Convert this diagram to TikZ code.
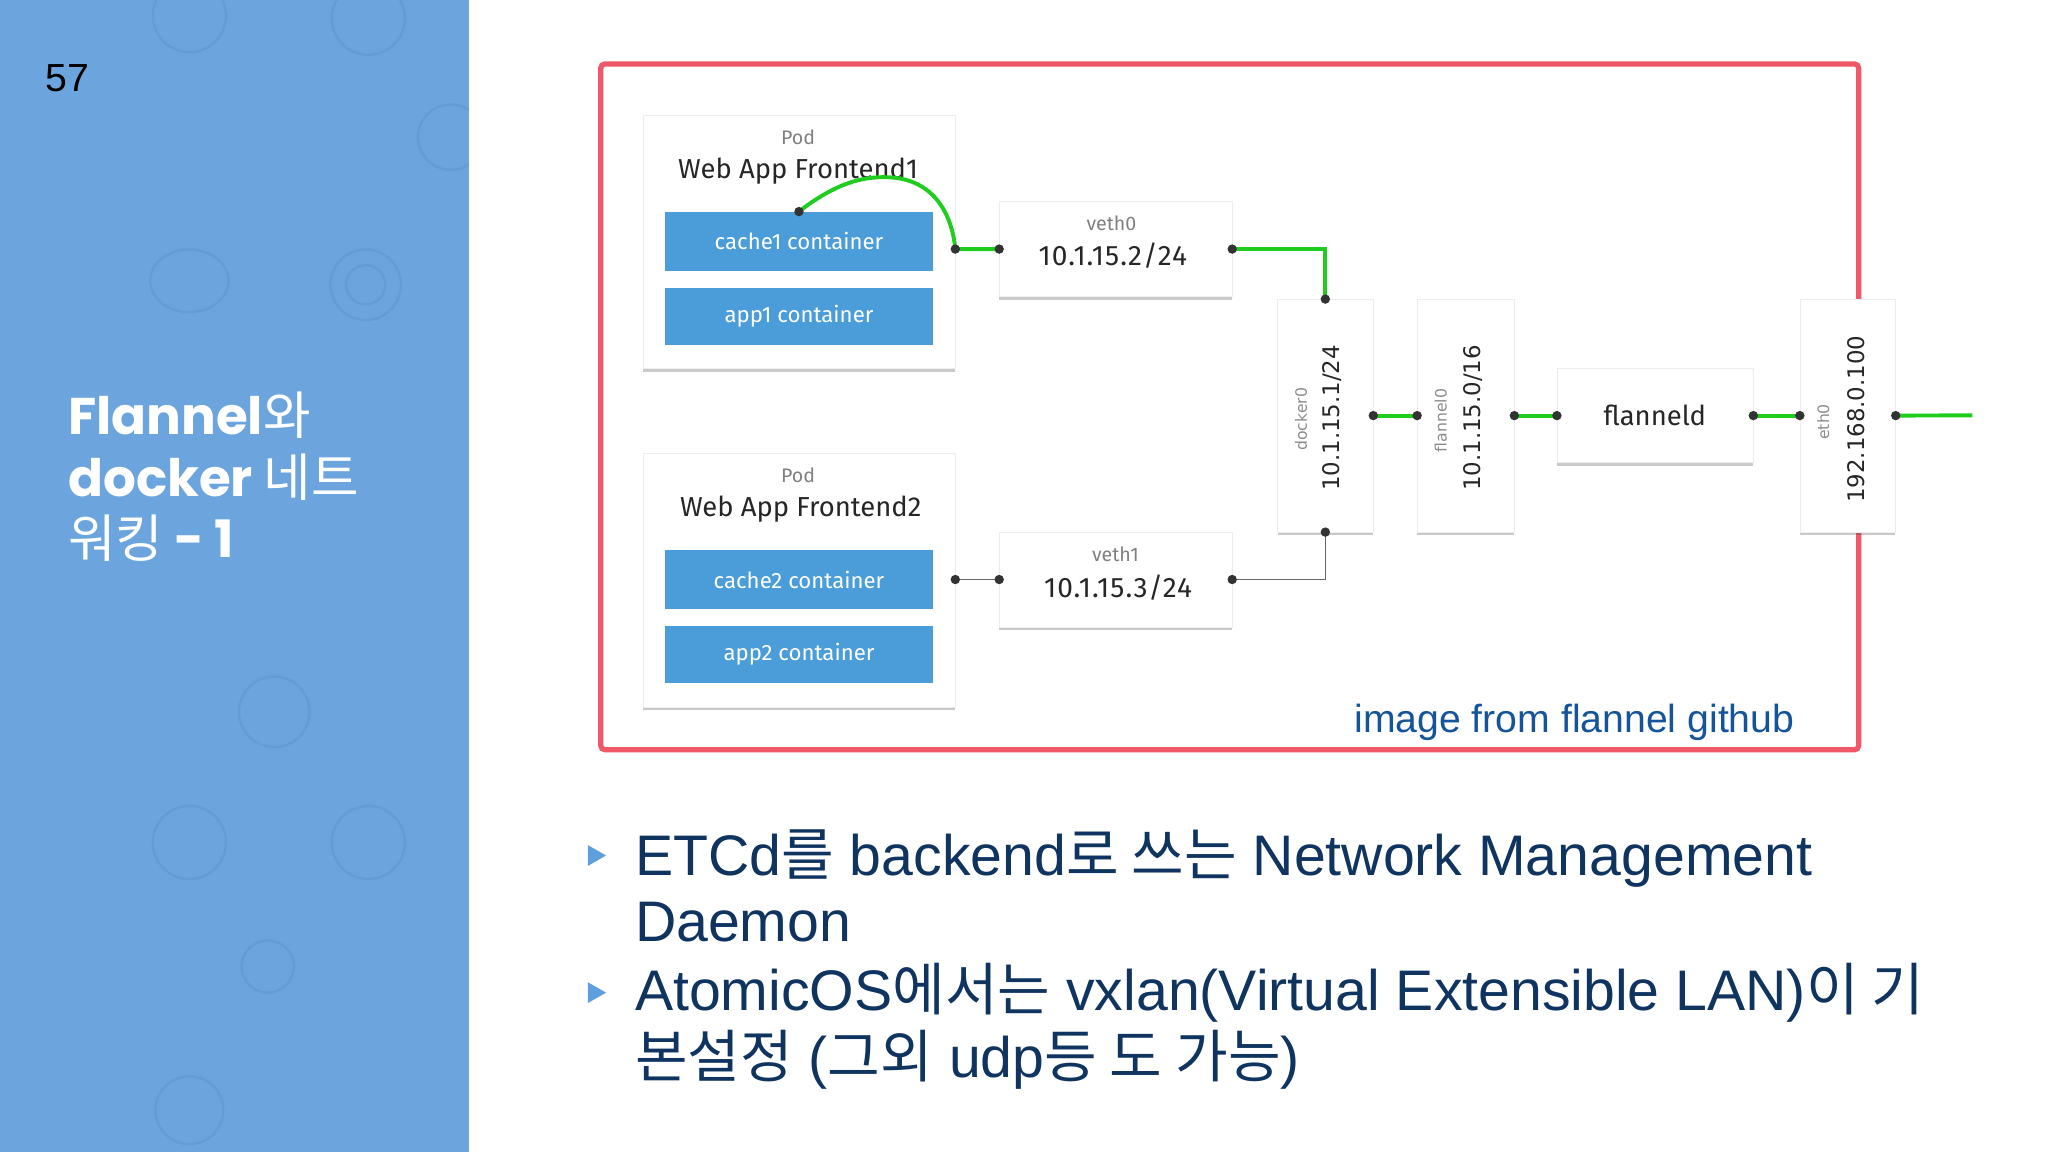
\documentclass[tikz,border=0pt]{standalone}
\usepackage{fontspec}
\setmainfont{Liberation Sans}
\newfontfamily\krfont{Noto Sans CJK KR}
\newfontfamily\titlefont{Poppins}
\newfontfamily\diafont{Fira Sans}
\newfontfamily\ipfont[LetterSpace=4]{Fira Sans}
\newfontfamily\vfont{DejaVu Sans}
\usetikzlibrary{shadows}
\definecolor{panelblue}{RGB}{108,165,221}
\definecolor{iconblue}{RGB}{100,156,212}
\definecolor{framered}{RGB}{238,88,104}
\definecolor{ctrblue}{RGB}{74,157,216}
\definecolor{wiregreen}{RGB}{30,205,30}
\definecolor{navy}{RGB}{15,52,96}
\definecolor{linkblue}{RGB}{20,84,154}
\definecolor{tipblue}{RGB}{95,160,220}
\tikzset{
  box/.style={rectangle, fill=white, draw=black!7, anchor=north west,
    drop shadow={shadow xshift=0pt, shadow yshift=-2.5pt, opacity=0.3, fill=black!70}},
  ctr/.style={rectangle, fill=ctrblue, anchor=north west, minimum width=205, text=white,
    font=\diafont\fontsize{17}{18}\selectfont},
  tag/.style={text=black!50, font=\diafont\fontsize{15}{16}\selectfont},
  vtag/.style={text=black!45, rotate=90, font=\vfont\fontsize{12}{13}\selectfont},
  label/.style={text=black!85, font=\diafont\fontsize{21}{22}\selectfont},
  iplabel/.style={text=black!85, font=\ipfont\fontsize{21.5}{22}\selectfont},
  vlabel/.style={text=black!85, rotate=90, font=\vfont\fontsize{17.5}{19}\selectfont},
  wire/.style={wiregreen, line width=3},
  thinwire/.style={black!60, line width=1.2},
  dot/.style={fill=black!80},
  icon/.style={iconblue, line width=1.8},
  title/.style={anchor=base west, inner sep=0, text=white, font=\titlefont\bfseries\fontsize{39.5}{40}\selectfont},
  bullet/.style={anchor=base west, inner sep=0, text=navy, font=\fontsize{43.8}{46}\selectfont}
}
\begin{document}
\begin{tikzpicture}[x=1pt,y=-1pt]
\useasboundingbox (0,0) rectangle (1568,882);
\fill[panelblue] (0,0) rectangle (359,882);
\begin{scope}
\clip (0,0) rectangle (359,882);
\draw[icon] (145,12) circle (28) (282,14) circle (28) (345,105) circle (25)
  (280,218) circle (27) (280,218) circle (15) (210,545) circle (27)
  (145,645) circle (28) (282,645) circle (28) (205,740) circle (20) (145,850) circle (26);
\draw[icon] (145,215) ellipse (30 and 24);
\end{scope}
\node[anchor=base west, inner sep=0, font=\fontsize{30}{32}\selectfont] (num) at (35,70) {57};
\node[title] (title1) at (52,333) {Flannel{\krfont\mdseries 와}};
\node[title] (title2) at (52,380) {docker {\krfont\mdseries 네트}};
\node[title] (title3) at (52,427) {{\krfont\mdseries 워킹} - 1};

\draw[framered, line width=4, rounded corners=3] (460,49) rectangle (1423,574);

\node[box, minimum width=239, minimum height=194] (pod1) at (492,88) {};
\node[tag] (pod1tag) at (611,105) {Pod};
\node[label] (pod1name) at (611,131) {Web App Frontend1};
\node[ctr, minimum height=45] (cache1) at (509,162) {cache1 container};
\node[ctr, minimum height=44] (app1) at (509,220) {app1 container};

\node[box, minimum width=239, minimum height=194] (pod2) at (492,347) {};
\node[tag] (pod2tag) at (611,364) {Pod};
\node[label] (pod2name) at (613,390) {Web App Frontend2};
\node[ctr, minimum height=45] (cache2) at (509,421) {cache2 container};
\node[ctr, minimum height=44] (app2) at (509,479) {app2 container};

\node[box, minimum width=178, minimum height=73] (veth0) at (765,154) {};
\node[tag] (veth0tag) at (851,171) {veth0};
\node[iplabel] (veth0ip) at (852,196) {10.1.15.2/24};
\node[box, minimum width=178, minimum height=73] (veth1) at (765,407) {};
\node[tag] (veth1tag) at (854,424) {veth1};
\node[iplabel] (veth1ip) at (856,450) {10.1.15.3/24};

\node[box, minimum width=73, minimum height=178] (docker0) at (978,229) {};
\node[vtag] (docker0tag) at (996,321) {docker0};
\node[vlabel] (docker0ip) at (1020,320) {10.1.15.1/24};
\node[box, minimum width=74, minimum height=178] (flannel0) at (1085,229) {};
\node[vtag] (flannel0tag) at (1103,322) {flannel0};
\node[vlabel] (flannel0ip) at (1128,320) {10.1.15.0/16};
\node[box, minimum width=150, minimum height=72] (flanneld) at (1192,282) {};
\node[label] (flanneldtxt) at (1267,318) {flanneld};
\node[box, minimum width=73, minimum height=178] (eth0) at (1378,229) {};
\node[vtag] (eth0tag) at (1396,323) {eth0};
\node[vlabel] (eth0ip) at (1421,321) {192.168.0.100};

\coordinate (pod1out) at (pod1.east |- veth0.west);
\coordinate (pod2out) at (pod2.east |- veth1.west);
\coordinate (uplink) at (1510,318);

\draw[wire] (cache1.north) .. controls (640,140) and (662,134) .. (684,136)
  .. controls (716,139) and (729,165) .. (pod1out) -- (veth0.west);
\draw[wire] (veth0.east) -| (docker0.north);
\draw[thinwire] (pod2out) -- (veth1.west);
\draw[thinwire] (veth1.east) -| (docker0.south);
\draw[wire] (docker0.east) -- (flannel0.west);
\draw[wire] (flannel0.east) -- (flanneld.west);
\draw[wire] (flanneld.east) -- (eth0.west);
\draw[wire] (eth0.east) -- (uplink);
\foreach \p in {cache1.north, pod1out, veth0.west, veth0.east, docker0.north,
  pod2out, veth1.west, veth1.east, docker0.south, docker0.east, flannel0.west,
  flannel0.east, flanneld.west, flanneld.east, eth0.west, eth0.east}
  \fill[dot] (\p) circle (3.6);

\node[anchor=base east, inner sep=0, text=linkblue, font=\fontsize{30}{32}\selectfont] (credit) at (1374,561) {image from flannel github};

\fill[tipblue] (450,647) -- (464,655) -- (450,663) -- cycle;
\fill[tipblue] (450,752) -- (464,760) -- (450,768) -- cycle;
\node[bullet] (line1) at (486,670) {ETCd{\krfont 를} backend{\krfont 로 쓰는} Network Management};
\node[bullet] (line2) at (486,721) {Daemon};
\node[bullet] (line3) at (486,774) {AtomicOS{\krfont 에서는} vxlan(Virtual Extensible LAN){\krfont 이 기}};
\node[bullet] (line4) at (486,825) {{\krfont 본설정} ({\krfont 그외} udp{\krfont 등 도 가능})};
\end{tikzpicture}
\end{document}
